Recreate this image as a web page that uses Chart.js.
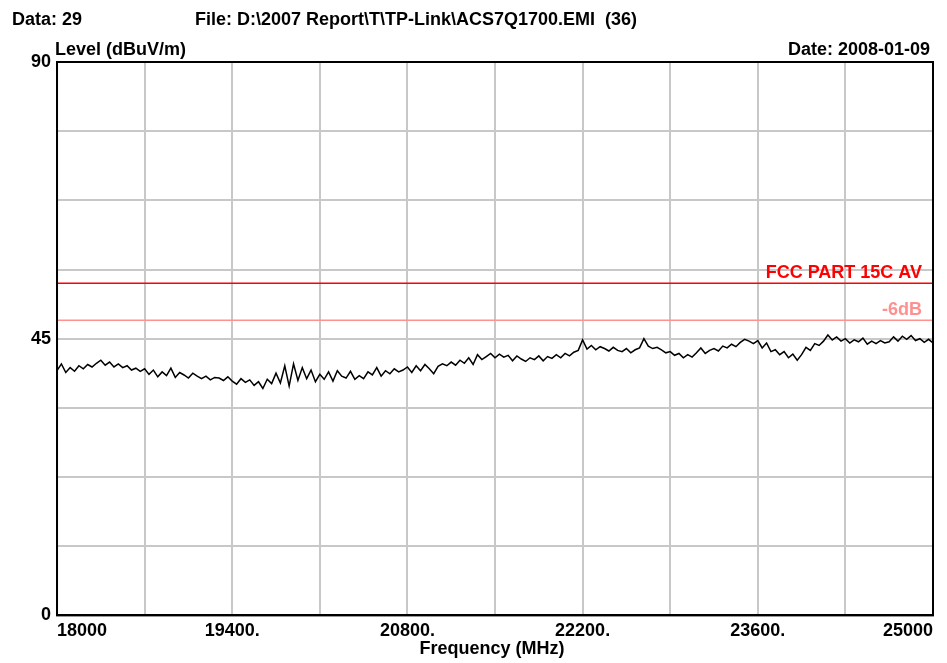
<!DOCTYPE html>
<html>
<head>
<meta charset="utf-8">
<script src="https://cdn.jsdelivr.net/npm/chart.js@4.4.1/dist/chart.umd.min.js"></script>
<style>
  html, body { margin: 0; padding: 0; background: #fff; }
  #wrap { width: 947px; height: 663px; }
</style>
</head>
<body>
<div id="wrap"><canvas id="emi" width="947" height="663"></canvas></div>
<script>
// sweep: 18000 - 25000 MHz, one reading every 35 MHz
const startFreq = 18000;
const stepFreq = 35;

const levels = [
  39.8, 40.9, 39.5, 40.3, 39.7, 40.6, 40.1, 40.8, 40.4, 41.0,
  41.5, 40.7, 41.2, 40.4, 40.9, 40.3, 40.6, 39.9, 40.2, 39.7,
  40.1, 39.2, 39.9, 38.8, 39.6, 39.0, 40.2, 38.7, 39.5, 39.1,
  38.6, 39.4, 38.9, 38.5, 38.9, 38.3, 38.7, 38.6, 38.2, 38.8,
  38.1, 37.6, 38.5, 37.9, 38.3, 37.4, 38.0, 36.9, 38.4, 37.7,
  39.4, 37.8, 40.6, 37.3, 40.9, 38.2, 40.3, 38.5, 39.9, 38.0,
  39.2, 38.4, 39.6, 38.1, 39.8, 38.9, 38.6, 39.7, 38.4, 39.0,
  38.5, 39.6, 39.1, 40.3, 38.9, 39.8, 39.3, 40.1, 39.6, 39.9,
  40.4, 39.5, 40.6, 39.8, 40.8, 40.1, 39.3, 40.5, 40.9, 40.6,
  41.2, 40.7, 41.5, 41.0, 41.9, 40.8, 42.4, 41.6, 42.1, 42.6,
  41.9, 42.5, 42.0, 42.3, 41.4, 42.2, 41.7, 41.3, 41.9, 41.6,
  42.2, 41.4, 42.1, 41.8, 42.4, 41.9, 42.6, 42.2, 42.8, 43.1,
  44.8, 43.3, 43.9, 43.2, 43.7, 43.4, 43.0, 43.6, 43.1, 42.9,
  43.4, 42.7, 43.2, 43.5, 45.0, 43.8, 43.4, 43.6, 43.2, 42.7,
  42.9, 42.3, 42.6, 41.9, 42.4, 42.0, 42.7, 43.5, 42.6, 43.1,
  43.4, 43.0, 43.8, 43.5, 44.1, 43.7, 44.4, 44.9, 44.6, 44.2,
  44.7, 43.5, 44.3, 42.9, 43.2, 42.4, 42.9, 41.9, 42.5, 41.5,
  42.4, 43.6, 43.1, 44.2, 43.9, 44.6, 45.6, 44.8, 45.3, 44.6,
  45.0, 44.3, 44.8, 44.5, 45.1, 44.1, 44.6, 44.2, 44.7, 44.3,
  44.5, 45.3, 44.6, 45.4, 44.9, 45.5, 44.7, 45.0, 44.4, 44.9,
  44.3
];

// limit lines
const limitFreqs = [18000, 25000];
const fccLimit = [54, 54];
const minus6dB = [48, 48];

const xTicks = [18000, 18700, 19400, 20100, 20800, 21500, 22200, 22900, 23600, 24300, 25000];
const xLabelled = [18000, 19400, 20800, 22200, 23600, 25000];
const yLabelled = [0, 45, 90];

const trace = levels.map(function(v, i) {
  return { x: startFreq + i * stepFreq, y: v };
});

function limitPoints(vals) {
  return limitFreqs.map(function(f, i) { return { x: f, y: vals[i] }; });
}

const FONT = '"Liberation Sans", Arial, sans-serif';

// header texts, frame and limit labels
const decorations = {
  id: 'decorations',
  afterDraw: function(chart) {
    const ctx = chart.ctx;
    const a = chart.chartArea;
    const ys = chart.scales.y;
    ctx.save();

    ctx.strokeStyle = '#000';
    ctx.lineWidth = 2;
    ctx.strokeRect(a.left, a.top, a.right - a.left, a.bottom - a.top);

    ctx.fillStyle = '#000';
    ctx.font = 'bold 18px ' + FONT;
    ctx.textBaseline = 'alphabetic';
    ctx.textAlign = 'left';
    ctx.fillText('Data: 29', 12, 25);
    ctx.fillText('File: D:\\2007 Report\\T\\TP-Link\\ACS7Q1700.EMI  (36)', 195, 25);
    ctx.fillText('Level (dBuV/m)', 55, 55);
    ctx.textAlign = 'right';
    ctx.fillText('Date: 2008-01-09', 930, 55);

    ctx.textAlign = 'center';
    ctx.fillText('Frequency (MHz)', 492, 654);

    ctx.textAlign = 'right';
    ctx.fillStyle = '#ff0000';
    ctx.fillText('FCC PART 15C AV', a.right - 11, ys.getPixelForValue(fccLimit[0]) - 5);
    ctx.fillStyle = '#ff9090';
    ctx.fillText('-6dB', a.right - 11, ys.getPixelForValue(minus6dB[0]) - 5);
    ctx.restore();
  }
};

new Chart(document.getElementById('emi').getContext('2d'), {
  type: 'line',
  data: {
    datasets: [{
      label: 'Level',
      data: trace,
      borderColor: '#000',
      borderWidth: 1.5,
      pointRadius: 0,
      tension: 0
    }, {
      label: 'FCC PART 15C AV',
      data: limitPoints(fccLimit),
      borderColor: '#ff0000',
      borderWidth: 1.5,
      pointRadius: 0
    }, {
      label: '-6dB',
      data: limitPoints(minus6dB),
      borderColor: '#ff9090',
      borderWidth: 1.5,
      pointRadius: 0
    }]
  },
  options: {
    responsive: false,
    animation: false,
    layout: { padding: { left: 25, right: 14, top: 62, bottom: 16 } },
    plugins: {
      legend: { display: false },
      tooltip: { enabled: false }
    },
    scales: {
      x: {
        type: 'linear',
        min: 18000,
        max: 25000,
        afterBuildTicks: function(axis) {
          axis.ticks = xTicks.map(function(v) { return { value: v }; });
        },
        grid: { color: '#c8c8c8', lineWidth: 2, drawTicks: false },
        border: { color: '#000', width: 2 },
        ticks: {
          align: 'inner',
          autoSkip: false,
          maxRotation: 0,
          padding: 5,
          color: '#000',
          font: { family: FONT, size: 18, weight: 'bold' },
          callback: function(v) {
            if (xLabelled.indexOf(v) < 0) return '';
            return (v === 18000 || v === 25000) ? String(v) : v + '.';
          }
        }
      },
      y: {
        min: 0,
        max: 90,
        ticks: {
          stepSize: 11.25,
          padding: 6,
          color: '#000',
          font: { family: FONT, size: 18, weight: 'bold' },
          callback: function(v) {
            return yLabelled.indexOf(v) >= 0 ? String(v) : '';
          }
        },
        grid: { color: '#c8c8c8', lineWidth: 2, drawTicks: false },
        border: { color: '#000', width: 2 }
      }
    }
  },
  plugins: [decorations]
});
</script>
</body>
</html>
